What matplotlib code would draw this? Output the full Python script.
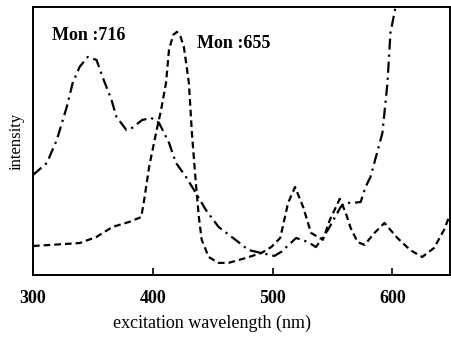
import matplotlib
matplotlib.use("Agg")
import matplotlib.pyplot as plt
import numpy as np

# Mon:716 (dash-dot)
wl_716 = [300, 311.6, 319.9, 328.2, 333.1, 338.9, 345.6, 353.0, 358.0, 365.5, 369.6,
          377.9, 382.9, 391.1, 398.6, 405.2, 413.5, 419.3, 427.6, 435.9, 444.2, 454.9,
          469.0, 479.8, 490.6, 501.4, 507.1, 519.6, 529.5, 536.1, 546.1, 556.8, 561.0,
          566.8, 573.4, 577.5, 581.7, 591.6, 595.8, 598.3, 602.4, 605.0]
int_716 = [37.3, 41.8, 50.4, 62.7, 71.6, 77.6, 81.3, 80.2, 73.9, 65.3, 59.0,
           54.1, 54.9, 57.8, 58.6, 56.7, 49.3, 41.8, 36.6, 30.6, 24.3, 17.9,
           13.1, 9.3, 8.2, 7.1, 8.6, 13.8, 12.3, 10.4, 16.8, 25.4, 26.9,
           26.9, 27.2, 32.8, 36.6, 53.0, 71.6, 90.3, 99.6, 106.0]

# Mon:655 (dashed)
wl_655 = [300, 338.9, 353.0, 366.3, 380.4, 390.3, 392.8, 396.9, 402.7, 406.9, 411.0,
          413.5, 417.0, 420.1, 423.0, 425.9, 430.1, 432.6, 435.9, 438.4, 440.8, 446.6, 454.9, 463.2,
          477.3, 490.6, 498.8, 506.3, 512.9, 518.7, 525.4, 532.0, 541.9, 547.7, 556.0,
          561.0, 565.1, 570.9, 576.7, 585.0, 593.3, 604.1, 614.8, 624.8, 634.7, 643.0,
          648.0]
int_655 = [10.8, 11.9, 14.2, 17.9, 19.8, 21.6, 28.0, 40.3, 53.0, 61.6, 71.6,
           84.0, 89.5, 90.7, 89.0, 85.1, 71.6, 53.0, 34.3, 21.6, 13.1, 6.7, 4.5, 4.5,
           6.3, 8.2, 10.4, 13.8, 26.9, 32.8, 25.4, 15.7, 13.1, 20.5, 28.4,
           23.1, 17.5, 12.3, 11.2, 15.7, 19.4, 13.8, 9.3, 6.7, 10.1, 16.8,
           22.5]

xticks = [300, 400, 500, 600]
xtick_labels = ["300", "400", "500", "600"]

serif = ["Liberation Serif", "DejaVu Serif"]

fig = plt.figure(figsize=(4.52, 3.42), dpi=100)
ax = fig.add_axes([0.073, 0.196, 0.9226, 0.784])

ax.plot(wl_716, int_716, color="black", lw=1.6, linestyle=(0, (5, 2.2, 1, 2.2)))
ax.plot(wl_655, int_655, color="black", lw=1.6, linestyle=(0, (3, 1.8)))

ax.set_xlim(300, 648)
ax.set_ylim(0, 100)
ax.set_xticks(xticks)
ax.set_xticklabels(xtick_labels, family=serif, fontsize=13, fontweight="bold")
ax.set_yticks([])
ax.tick_params(axis="x", direction="in", length=5, width=1.2, pad=11)

for s in ax.spines.values():
    s.set_linewidth(1.4)

ax.set_xlabel("excitation wavelength (nm)", family=serif, fontsize=13)
ax.xaxis.set_label_coords(0.43, -0.15)
ax.set_ylabel("intensity", family=serif, fontsize=12, labelpad=6)

ax.text(315.5, 87.5, "Mon :716", family=serif, fontsize=13, fontweight="bold")
ax.text(437, 84.5, "Mon :655", family=serif, fontsize=13, fontweight="bold")

fig.savefig("out.png", dpi=100)
